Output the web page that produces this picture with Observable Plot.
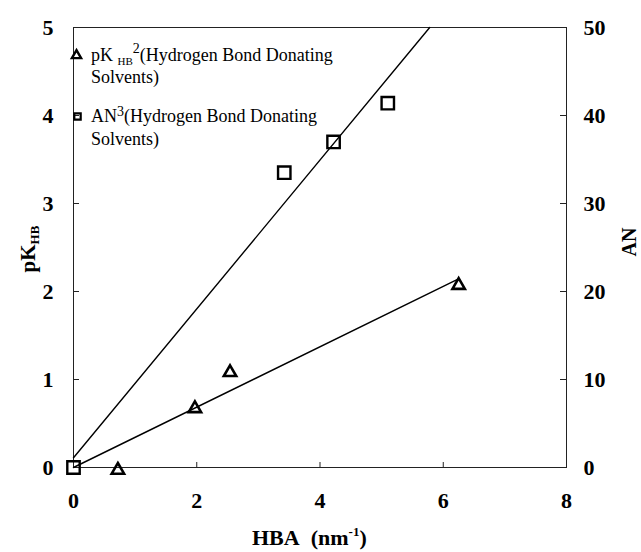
<!DOCTYPE html>
<html>
<head>
<meta charset="utf-8">
<script src="https://cdn.jsdelivr.net/npm/d3@7"></script>
<script src="https://cdn.jsdelivr.net/npm/@observablehq/plot@0.6"></script>
<style>
  html, body { margin: 0; padding: 0; background: #fff; }
  #chart { width: 641px; height: 552px; }
  #chart svg text, #chart svg tspan { font-family: "Liberation Serif", "Times New Roman", serif !important; }
</style>
</head>
<body>
<div id="chart"></div>
<script>
// ---- data ----
const xTicks = [0, 2, 4, 6, 8];
const leftTicks = [0, 1, 2, 3, 4, 5];
const rightTicks = [0, 10, 20, 30, 40, 50];

// pK_HB (triangles)
const pkHBA = [0.72, 1.97, 2.54, 6.25];
const pkValues = [-0.03, 0.67, 1.08, 2.07];
// AN (squares)
const anHBA = [0, 3.42, 4.22, 5.10];
const anValues = [0, 33.5, 37.0, 41.4];

// fitted lines (end points)
const pkFitHBA = [0, 6.24];
const pkFitValues = [0, 2.14];
const anFitHBA = [0, 5.78];
const anFitValues = [1.1, 50];

const legendLabels = ["pK_HB", "AN"];

// ---- build tables ----
const pkPoints = pkHBA.map((x, i) => ({x, y: pkValues[i]}));
const anPoints = anHBA.map((x, i) => ({x, y: anValues[i] / 10}));
const pkFit = pkFitHBA.map((x, i) => ({x, y: pkFitValues[i]}));
const anFit = anFitHBA.map((x, i) => ({x, y: anFitValues[i] / 10}));

const font = "Liberation Serif, Times New Roman, serif";

const plot = Plot.plot({
  width: 641,
  height: 552,
  marginLeft: 73,
  marginRight: 75,
  marginTop: 27,
  marginBottom: 85,
  style: {background: "#fff", color: "#000"},
  x: {domain: [0, 8]},
  y: {domain: [0, 5]},
  marks: [
    Plot.frame({stroke: "#222", strokeWidth: 1}),
    // bottom axis labels + inward ticks
    Plot.axisX(xTicks, {anchor: "bottom", tickSize: 0, tickPadding: 25, fontSize: 22, fontWeight: "bold", fontFamily: font, label: null, tickFormat: d => String(d)}),
    Plot.axisX(xTicks.slice(1, -1), {anchor: "bottom", tickSize: 5, text: null, dy: -5, label: null, stroke: "#222"}),
    // left axis
    Plot.axisY(leftTicks, {anchor: "left", tickSize: 0, tickPadding: 20, fontSize: 22, fontWeight: "bold", fontFamily: font, label: null, tickFormat: d => String(d)}),
    Plot.axisY(leftTicks.slice(1, -1), {anchor: "left", tickSize: 6, text: null, dx: 6, label: null, stroke: "#222"}),
    // right axis (AN, scaled by 10)
    Plot.axisY(rightTicks.map(v => v / 10), {anchor: "right", tickSize: 0, tickPadding: 17, fontSize: 22, fontWeight: "bold", fontFamily: font, label: null, tickFormat: d => String(Math.round(d * 10))}),
    Plot.axisY(rightTicks.slice(1, -1).map(v => v / 10), {anchor: "right", tickSize: 7, text: null, dx: -7, label: null, stroke: "#222"}),
    // fit lines
    Plot.line(pkFit, {x: "x", y: "y", stroke: "#000", strokeWidth: 1.4}),
    Plot.line(anFit, {x: "x", y: "y", stroke: "#000", strokeWidth: 1.4}),
    // data points
    Plot.dot(pkPoints, {x: "x", y: "y", symbol: "triangle", r: 4.6, stroke: "#000", strokeWidth: 2.6, fill: "none"}),
    Plot.dot(anPoints, {x: "x", y: "y", symbol: "square", r: 7, stroke: "#000", strokeWidth: 2.4, fill: "none"}),
    // legend symbols
    Plot.dot([legendLabels[0]], {frameAnchor: "top-left", dx: 3, dy: 28, symbol: "triangle", r: 3.4, stroke: "#000", strokeWidth: 2.4, fill: "none"}),
    Plot.dot([legendLabels[1]], {frameAnchor: "top-left", dx: 4, dy: 89, symbol: "square", r: 3.6, stroke: "#000", strokeWidth: 2.2, fill: "none"})
  ]
});

document.getElementById("chart").appendChild(plot);

const svg = d3.select(plot);

// legend texts
function legendLine(x, y) {
  return svg.append("text").attr("x", x).attr("y", y)
    .attr("text-anchor", "start")
    .attr("font-family", font).attr("font-size", 18).attr("fill", "#000");
}
const l1 = legendLine(91, 61);
l1.append("tspan").text("pK ");
l1.append("tspan").attr("font-size", 11).attr("dy", 4).text("HB");
l1.append("tspan").attr("font-size", 14).attr("dy", -12).text("2");
l1.append("tspan").attr("dy", 8).text("(Hydrogen Bond Donating");
legendLine(91, 83).text("Solvents)");

const l2 = legendLine(91, 122);
l2.append("tspan").text("AN");
l2.append("tspan").attr("font-size", 14).attr("dy", -6).text("3");
l2.append("tspan").attr("dy", 6).text("(Hydrogen Bond Donating");
legendLine(91, 145).text("Solvents)");

// axis titles
const yl = svg.append("text")
  .attr("transform", "translate(35,249) rotate(-90)")
  .attr("text-anchor", "middle")
  .attr("font-family", font).attr("font-weight", "bold").attr("font-size", 21).attr("fill", "#000");
yl.append("tspan").text("pK");
yl.append("tspan").attr("font-size", 13).attr("dy", 4).text("HB");

svg.append("text")
  .attr("transform", "translate(636,242) rotate(-90)")
  .attr("text-anchor", "middle")
  .attr("font-family", font).attr("font-weight", "bold").attr("font-size", 20).attr("fill", "#000")
  .text("AN");

const xl = svg.append("text")
  .attr("x", 252).attr("y", 545)
  .attr("text-anchor", "start")
  .attr("font-family", font).attr("font-weight", "bold").attr("font-size", 22).attr("fill", "#000");
xl.append("tspan").text("HBA\u00a0\u00a0(nm");
xl.append("tspan").attr("font-size", 13).attr("dy", -9).text("-1");
xl.append("tspan").attr("dy", 9).text(")");
</script>
</body>
</html>
